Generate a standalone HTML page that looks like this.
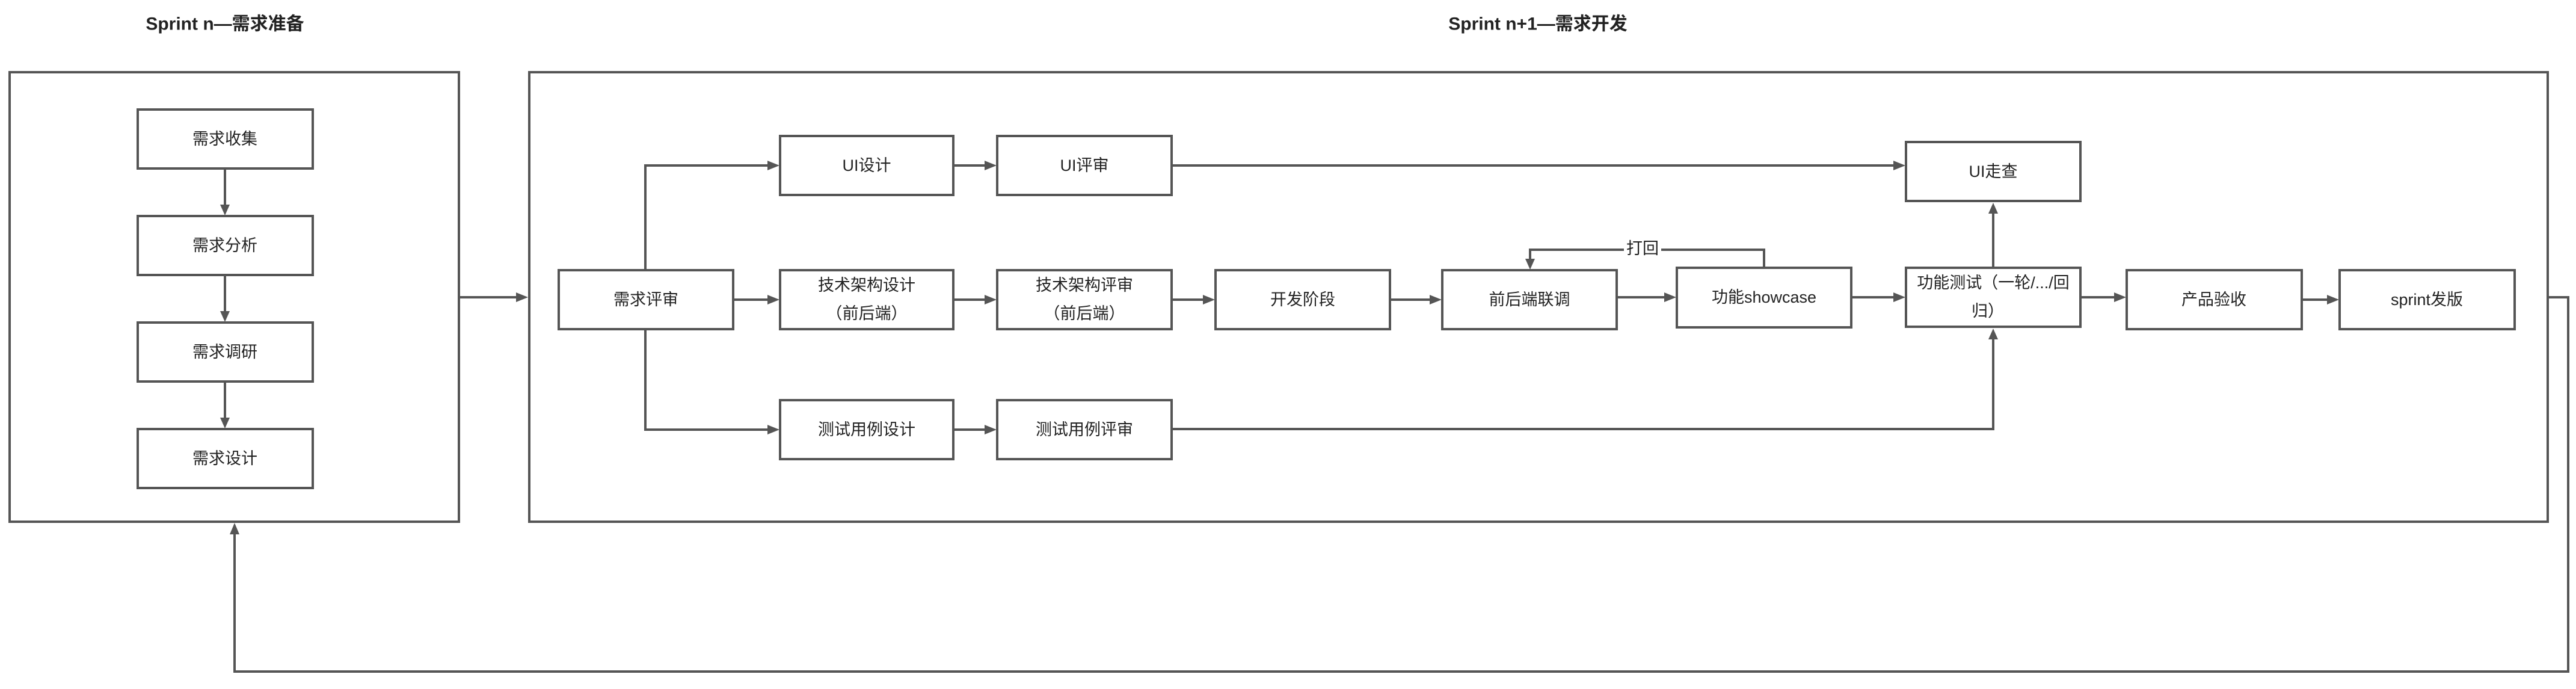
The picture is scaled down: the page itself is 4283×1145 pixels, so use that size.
<!DOCTYPE html>
<html><head><meta charset="utf-8"><style>
html,body{margin:0;padding:0;background:#fff;}
svg{display:block;}
text{font-family:"Liberation Sans","Noto Sans CJK SC",sans-serif;fill:#222;}
</style></head><body>
<svg width="4283" height="1145" viewBox="0 0 4283 1145" xmlns="http://www.w3.org/2000/svg">
<defs>
<marker id="a" markerWidth="10" markerHeight="10" refX="9" refY="5" orient="auto" markerUnits="userSpaceOnUse" viewBox="0 0 10 10">
</marker>
</defs>
<g fill="none" stroke="#555" stroke-width="4">
<rect x="16" y="120" width="747" height="747"/>
<rect x="880" y="120" width="3356" height="747"/>
<rect x="229" y="182" width="291" height="98"/>
<rect x="229" y="359" width="291" height="98"/>
<rect x="229" y="536" width="291" height="98"/>
<rect x="229" y="713" width="291" height="98"/>
<rect x="929" y="449" width="290" height="98"/>
<rect x="1297" y="226" width="288" height="98"/>
<rect x="1297" y="449" width="288" height="98"/>
<rect x="1297" y="665" width="288" height="98"/>
<rect x="1658" y="226" width="290" height="98"/>
<rect x="1658" y="449" width="290" height="98"/>
<rect x="1658" y="665" width="290" height="98"/>
<rect x="2021" y="449" width="290" height="98"/>
<rect x="2398" y="449" width="290" height="98"/>
<rect x="2788" y="445" width="290" height="99"/>
<rect x="3169" y="236" width="290" height="98"/>
<rect x="3169" y="445" width="290" height="98"/>
<rect x="3536" y="449" width="291" height="98"/>
<rect x="3890" y="449" width="291" height="98"/>
</g>
<g fill="none" stroke="#555" stroke-width="4">
<path d="M374 280V340M374 457V517M374 634V694"/>
<path d="M763 494H860"/>
<path d="M1073 449V275H1278M1219 498H1278M1073 547V714H1278"/>
<path d="M1585 275H1639M1585 498H1639M1585 714H1639"/>
<path d="M1948 275H3150M1948 498H2002M2311 498H2379M2688 494H2769M3078 494H3150"/>
<path d="M1948 713H3314V562"/>
<path d="M3314 445V353"/>
<path d="M3459 494H3517M3827 498H3871"/>
<path d="M2933 445V415H2544V430"/>
<path d="M4236 494H4270V1116H390V886"/>
</g>
<g fill="#555">
<path d="M366 340L382 340L374 358Z"/><path d="M366 517L382 517L374 535Z"/><path d="M366 694L382 694L374 712Z"/>
<path d="M858 486L878 494L858 502Z"/>
<path d="M1276 267L1296 275L1276 283Z"/><path d="M1276 490L1296 498L1276 506Z"/><path d="M1276 706L1296 714L1276 722Z"/>
<path d="M1637 267L1657 275L1637 283Z"/><path d="M1637 490L1657 498L1637 506Z"/><path d="M1637 706L1657 714L1637 722Z"/>
<path d="M3148 267L3168 275L3148 283Z"/>
<path d="M2000 490L2020 498L2000 506Z"/><path d="M2377 490L2397 498L2377 506Z"/><path d="M2767 486L2787 494L2767 502Z"/><path d="M3148 486L3168 494L3148 502Z"/>
<path d="M3306 564L3314 546L3322 564Z"/><path d="M3306 355L3314 337L3322 355Z"/>
<path d="M3515 486L3535 494L3515 502Z"/><path d="M3869 490L3889 498L3869 506Z"/>
<path d="M2536 430L2552 430L2544 448Z"/>
<path d="M382 888L390 869L398 888Z"/>
</g>
<rect x="2700" y="400" width="62" height="30" fill="#fff"/>
<g font-size="27" text-anchor="middle" dominant-baseline="central">
<text x="374" y="40" font-size="30" font-weight="bold">Sprint n—需求准备</text>
<text x="2557" y="40" font-size="30" font-weight="bold">Sprint n+1—需求开发</text>
<text x="374" y="231">需求收集</text>
<text x="374" y="408">需求分析</text>
<text x="374" y="585">需求调研</text>
<text x="374" y="762">需求设计</text>
<text x="1074" y="498">需求评审</text>
<text x="1441" y="275">UI设计</text>
<text x="1441" y="474">技术架构设计</text>
<text x="1441" y="521">（前后端）</text>
<text x="1441" y="714">测试用例设计</text>
<text x="1803" y="275">UI评审</text>
<text x="1803" y="474">技术架构评审</text>
<text x="1803" y="521">（前后端）</text>
<text x="1803" y="714">测试用例评审</text>
<text x="2166" y="498">开发阶段</text>
<text x="2543" y="498">前后端联调</text>
<text x="2933" y="494">功能showcase</text>
<text x="2731" y="413">打回</text>
<text x="3314" y="285">UI走查</text>
<text x="3314" y="470">功能测试（一轮/.../回</text>
<text x="3305" y="517">归）</text>
<text x="3681" y="498">产品验收</text>
<text x="4035" y="498">sprint发版</text>
</g>
</svg>
</body></html>
